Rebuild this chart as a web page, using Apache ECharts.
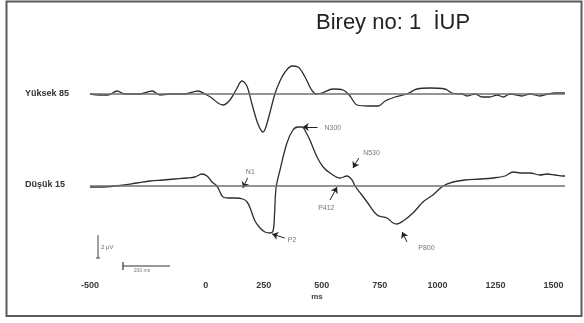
<!DOCTYPE html>
<html>
<head>
<meta charset="utf-8">
<script src="https://cdn.jsdelivr.net/npm/echarts@6/dist/echarts.min.js"></script>
<style>
html,body{margin:0;padding:0;background:#fff;}
#c{width:584px;height:323px;}
</style>
</head>
<body>
<div id="c"></div>
<script>
var titleText = 'Birey no: 1  İUP';
var traceNames = ['Yüksek 85', 'Düşük 15'];
var tickValues = [-500, 0, 250, 500, 750, 1000, 1250, 1500];

var upperMs  = [-500,-457,-422,-383,-349,-284,-232,-198,-155,-90,-34,-4,26,52,74,104,130,156,177,199,225,247,263,298,320,342,372,398,428,454,476,501,549,592,622,653,701,744,774,817,868,911,967,1032,1062,1106,1127,1162,1192,1226,1257,1283,1313,1364,1399,1442,1477,1507,1550];
var upperAmp = [0,-1,-1,3,0,0,3,-1,0,0,3,0,-4,-9,-11,-6,4,13,8,-10,-30,-38,-30,0,13,22,28,27,17,5,0,1,5,4,-2,-11,-12,-12,-7,-3,0,5,6,5,1,0,-2,0,-3,-3,-1,-3,0,-2,0,-2,0,1,1];

var lowerMs  = [-500,-457,-392,-297,-241,-185,-133,-81,-47,-17,5,27,48,61,74,96,126,160,178,191,212,234,255,277,290,296,303,320,350,376,398,415,436,449,480,506,536,579,609,631,644,670,696,739,782,808,825,851,894,937,980,1024,1067,1118,1183,1239,1291,1326,1364,1399,1442,1472,1507,1541,1550];
var lowerAmp = [-1,-1,0,3,5,6,7,8,9,12,10,4,0,-6,-11,-12,-12,-13,-16,-22,-35,-42,-46,-47,-45,-30,-2,16,43,56,59,59,52,46,29,19,13,8,10,6,0,-8,-16,-29,-32,-37,-38,-35,-27,-16,-9,0,4,6,7,8,10,14,13,13,11,12,11,10,10];

var annLabels   = ['N1', 'P2', 'N300', 'N530', 'P412', 'P800'];
var annPeakMs   = [160, 286, 418, 635, 566, 847];
var annPeakAmp  = [-2, -48, 59, 18, -1, -46];
var annTailMs   = [180, 340, 482, 660, 536, 868];
var annTailAmp  = [8, -52, 59, 28, -14, -56];
var annTextMs   = [192, 372, 548, 715, 520, 952];
var annTextAmp  = [14, -54, 58, 33, -22, -62];

var scaleLabels = ['2 µV', '200 ms'];
var unitLabel = 'ms';

function pairs(xs, ys) { return xs.map(function (x, i) { return [x, ys[i]]; }); }

var chart = echarts.init(document.getElementById('c'), null, {renderer: 'canvas'});
var font = "'Liberation Sans', Arial, sans-serif";
var xCommon = {
  type: 'value', min: -500, max: 1550,
  axisLine: {show: false}, axisTick: {show: false}, splitLine: {show: false}
};
var baseLine = {
  silent: true, symbol: 'none', label: {show: false},
  lineStyle: {color: '#707070', width: 1.6, type: 'solid'},
  data: [{yAxis: 0}]
};

var annLines = annLabels.map(function (n, i) {
  return {coords: [[annTailMs[i], annTailAmp[i]], [annPeakMs[i], annPeakAmp[i]]]};
});
var annTexts = annLabels.map(function (n, i) {
  return {name: n, value: [annTextMs[i], annTextAmp[i]]};
});

chart.setOption({
  animation: false,
  backgroundColor: '#fff',
  grid: [
    {left: 90, right: 19, top: 59, height: 80},
    {left: 90, right: 19, top: 116, height: 160}
  ],
  xAxis: [
    Object.assign({gridIndex: 0, axisLabel: {show: false}}, xCommon),
    Object.assign({gridIndex: 1, axisLabel: {
      show: true, customValues: tickValues, margin: 5,
      formatter: function (v) { return String(v); },
      color: '#3a3a3a', fontSize: 9, fontWeight: 'bold', fontFamily: font
    }}, xCommon)
  ],
  yAxis: [
    {gridIndex: 0, type: 'value', min: -45, max: 35, show: false, splitLine: {show: false}},
    {gridIndex: 1, type: 'value', min: -90, max: 70, show: false, splitLine: {show: false}}
  ],
  series: [
    {
      name: traceNames[0], type: 'line', xAxisIndex: 0, yAxisIndex: 0,
      data: pairs(upperMs, upperAmp), showSymbol: false, smooth: 0.35,
      lineStyle: {color: '#2e2e2e', width: 1.3},
      markLine: baseLine
    },
    {
      name: traceNames[1], type: 'line', xAxisIndex: 1, yAxisIndex: 1,
      data: pairs(lowerMs, lowerAmp), showSymbol: false, smooth: 0.35,
      lineStyle: {color: '#2e2e2e', width: 1.3},
      markLine: baseLine
    },
    {
      type: 'lines', coordinateSystem: 'cartesian2d', xAxisIndex: 1, yAxisIndex: 1,
      symbol: ['none', 'arrow'], symbolSize: [0, 6],
      lineStyle: {color: '#222', width: 1, opacity: 1},
      data: annLines
    },
    {
      type: 'scatter', xAxisIndex: 1, yAxisIndex: 1, symbolSize: 0,
      data: annTexts,
      label: {
        show: true, position: 'inside', formatter: '{b}',
        color: '#555', fontSize: 7, fontFamily: font
      }
    }
  ],
  graphic: [
    {type: 'rect', shape: {x: 6.5, y: 1.5, width: 575, height: 314.5},
     style: {fill: null, stroke: '#5a5a5a', lineWidth: 2}},
    {type: 'text', x: 316, y: 12,
     style: {text: titleText, font: "22px 'Liberation Sans', Arial, sans-serif", fill: '#222'}},
    {type: 'text', x: 25, y: 94,
     style: {text: traceNames[0], font: "bold 9px 'Liberation Sans', sans-serif", fill: '#333', verticalAlign: 'middle'}},
    {type: 'text', x: 25, y: 185,
     style: {text: traceNames[1], font: "bold 9px 'Liberation Sans', sans-serif", fill: '#333', verticalAlign: 'middle'}},
    {type: 'text', x: 317, y: 297,
     style: {text: unitLabel, font: "bold 8px 'Liberation Sans', sans-serif", fill: '#444', align: 'center', verticalAlign: 'middle'}},
    {type: 'line', shape: {x1: 98, y1: 235, x2: 98, y2: 258}, style: {stroke: '#444', lineWidth: 1}},
    {type: 'line', shape: {x1: 96, y1: 258, x2: 100, y2: 258}, style: {stroke: '#444', lineWidth: 1}},
    {type: 'text', x: 101, y: 247,
     style: {text: scaleLabels[0], font: "6px 'Liberation Sans', sans-serif", fill: '#666', verticalAlign: 'middle'}},
    {type: 'line', shape: {x1: 123, y1: 266, x2: 170, y2: 266}, style: {stroke: '#333', lineWidth: 1.2}},
    {type: 'line', shape: {x1: 123, y1: 262, x2: 123, y2: 270}, style: {stroke: '#333', lineWidth: 1.2}},
    {type: 'text', x: 142, y: 271,
     style: {text: scaleLabels[1], font: "5px 'Liberation Sans', sans-serif", fill: '#777', align: 'center', verticalAlign: 'middle'}}
  ]
});
</script>
</body>
</html>
